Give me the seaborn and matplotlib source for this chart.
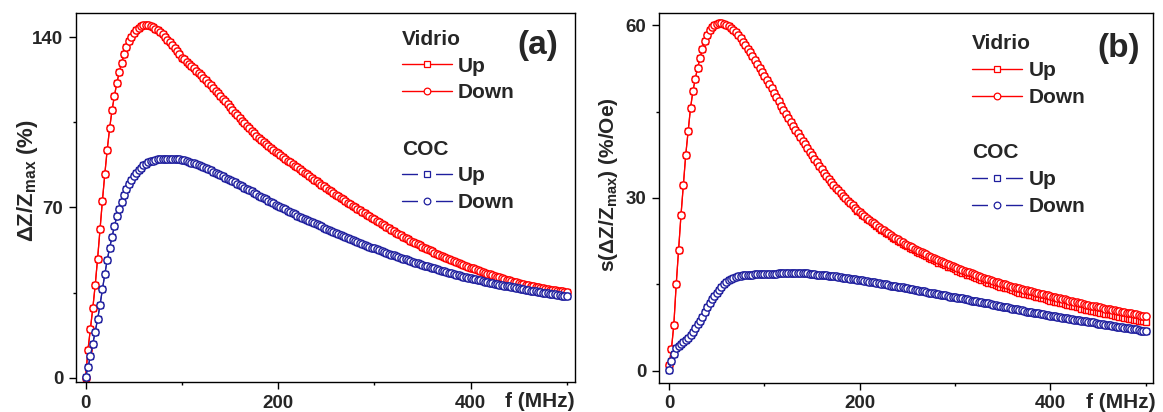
import numpy as np
import matplotlib
matplotlib.use("Agg")
import matplotlib.pyplot as plt
from matplotlib.lines import Line2D
from matplotlib.legend_handler import HandlerTuple
from matplotlib.ticker import FixedLocator
import seaborn as sns

# Frequency sweep of the impedance analyzer (MHz), 2.5 MHz steps
freq = np.linspace(0.0, 500.0, 201)

# (a) GMI ratio dZ/Zmax (%)
vidrio_up_a = [
    0.0, 11.5, 20.0, 28.5, 38.0, 49.0, 61.0, 72.8, 83.8, 93.8,
    102.6, 110.0, 116.0, 121.2, 125.7, 129.6, 133.0, 135.9, 138.3, 140.2,
    141.7, 142.9, 143.9, 144.6, 145.0, 145.2, 145.1, 144.8, 144.3, 143.6,
    142.9, 142.1, 141.2, 140.2, 139.1, 137.9, 136.7, 135.5, 134.3, 133.0,
    131.7, 130.9, 130.0, 129.1, 128.2, 127.3, 126.3, 125.4, 124.4, 123.4,
    122.4, 121.4, 120.3, 119.2, 118.1, 117.0, 115.9, 114.8, 113.6, 112.5,
    111.3, 110.2, 109.0, 107.9, 106.8, 105.7, 104.6, 103.5, 102.5, 101.5,
    100.5, 99.6, 98.7, 97.8, 97.0, 96.2, 95.4, 94.6, 93.8, 93.0,
    92.3, 91.5, 90.8, 90.0, 89.3, 88.6, 87.9, 87.2, 86.5, 85.8,
    85.1, 84.3, 83.6, 82.9, 82.2, 81.5, 80.8, 80.1, 79.4, 78.7,
    78.0, 77.3, 76.7, 76.0, 75.3, 74.6, 74.0, 73.3, 72.7, 72.0,
    71.4, 70.7, 70.1, 69.5, 68.9, 68.3, 67.7, 67.1, 66.5, 65.8,
    65.1, 64.5, 63.9, 63.3, 62.7, 62.1, 61.5, 60.9, 60.3, 59.7,
    59.2, 58.6, 58.0, 57.4, 56.9, 56.4, 55.9, 55.4, 54.9, 54.4,
    53.9, 53.4, 52.9, 52.4, 51.9, 51.4, 51.0, 50.5, 50.1, 49.6,
    49.2, 48.8, 48.4, 48.0, 47.6, 47.2, 46.8, 46.4, 46.0, 45.6,
    45.3, 44.9, 44.6, 44.2, 43.9, 43.5, 43.2, 42.8, 42.5, 42.1,
    41.8, 41.5, 41.2, 40.9, 40.6, 40.3, 40.0, 39.7, 39.5, 39.2,
    39.0, 38.7, 38.5, 38.2, 38.0, 37.8, 37.6, 37.4, 37.2, 37.0,
    36.8, 36.6, 36.4, 36.2, 36.1, 35.9, 35.8, 35.6, 35.5, 35.3,
    35.2,
]
vidrio_down_a = [
    0.0, 11.5, 20.0, 28.5, 38.0, 49.0, 61.0, 72.8, 83.8, 93.8,
    102.6, 110.0, 116.0, 121.2, 125.7, 129.6, 133.0, 135.9, 138.3, 140.2,
    141.7, 142.9, 143.9, 144.6, 145.0, 145.2, 145.1, 144.8, 144.3, 143.6,
    142.9, 142.1, 141.2, 140.2, 139.1, 137.9, 136.7, 135.5, 134.3, 133.0,
    131.7, 130.9, 130.0, 129.1, 128.2, 127.3, 126.3, 125.4, 124.4, 123.4,
    122.4, 121.4, 120.3, 119.2, 118.1, 117.0, 115.9, 114.8, 113.6, 112.5,
    111.3, 110.2, 109.0, 107.9, 106.8, 105.7, 104.6, 103.5, 102.5, 101.5,
    100.5, 99.6, 98.7, 97.8, 97.0, 96.2, 95.4, 94.6, 93.8, 93.0,
    92.3, 91.5, 90.8, 90.0, 89.3, 88.6, 87.9, 87.2, 86.5, 85.8,
    85.1, 84.3, 83.6, 82.9, 82.2, 81.5, 80.8, 80.1, 79.4, 78.7,
    78.0, 77.3, 76.7, 76.0, 75.3, 74.6, 74.0, 73.3, 72.7, 72.0,
    71.4, 70.7, 70.1, 69.5, 68.9, 68.3, 67.7, 67.1, 66.5, 65.8,
    65.1, 64.5, 63.9, 63.3, 62.7, 62.1, 61.5, 60.9, 60.3, 59.7,
    59.2, 58.6, 58.0, 57.4, 56.9, 56.4, 55.9, 55.4, 54.9, 54.4,
    53.9, 53.4, 52.9, 52.4, 51.9, 51.4, 51.0, 50.5, 50.1, 49.6,
    49.2, 48.8, 48.4, 48.0, 47.6, 47.2, 46.8, 46.4, 46.0, 45.6,
    45.3, 44.9, 44.6, 44.2, 43.9, 43.5, 43.2, 42.8, 42.5, 42.1,
    41.8, 41.5, 41.2, 40.9, 40.6, 40.3, 40.0, 39.7, 39.5, 39.2,
    39.0, 38.7, 38.5, 38.2, 38.0, 37.8, 37.6, 37.4, 37.2, 37.0,
    36.8, 36.6, 36.4, 36.2, 36.1, 35.9, 35.8, 35.6, 35.5, 35.3,
    35.2,
]
coc_up_a = [
    0.3, 4.2, 8.8, 13.9, 18.9, 24.0, 29.9, 36.4, 42.6, 48.4,
    53.4, 58.0, 62.4, 66.3, 69.4, 72.4, 75.0, 77.4, 79.5, 81.4,
    82.9, 84.2, 85.4, 86.4, 87.3, 88.0, 88.6, 89.0, 89.3, 89.6,
    89.8, 89.9, 90.0, 90.1, 90.1, 90.1, 90.1, 90.0, 89.9, 89.8,
    89.6, 89.4, 89.1, 88.8, 88.5, 88.1, 87.8, 87.4, 87.0, 86.7,
    86.3, 85.8, 85.3, 84.8, 84.3, 83.8, 83.3, 82.8, 82.3, 81.8,
    81.3, 80.8, 80.3, 79.8, 79.3, 78.7, 78.2, 77.6, 77.1, 76.6,
    76.0, 75.5, 74.9, 74.4, 73.8, 73.3, 72.7, 72.2, 71.7, 71.2,
    70.7, 70.2, 69.7, 69.2, 68.7, 68.2, 67.7, 67.2, 66.7, 66.2,
    65.7, 65.3, 64.8, 64.4, 63.9, 63.5, 63.0, 62.6, 62.2, 61.7,
    61.3, 60.9, 60.4, 60.0, 59.6, 59.2, 58.8, 58.3, 57.9, 57.5,
    57.1, 56.7, 56.3, 55.9, 55.5, 55.1, 54.7, 54.3, 53.9, 53.5,
    53.2, 52.8, 52.4, 52.1, 51.7, 51.3, 51.0, 50.6, 50.3, 49.9,
    49.6, 49.3, 48.9, 48.6, 48.3, 48.0, 47.7, 47.3, 47.0, 46.7,
    46.4, 46.1, 45.8, 45.5, 45.2, 44.9, 44.6, 44.3, 44.0, 43.8,
    43.5, 43.2, 42.9, 42.7, 42.4, 42.1, 41.9, 41.6, 41.4, 41.1,
    40.9, 40.7, 40.4, 40.2, 40.0, 39.7, 39.5, 39.3, 39.1, 38.9,
    38.7, 38.5, 38.3, 38.1, 37.9, 37.7, 37.5, 37.3, 37.1, 36.9,
    36.7, 36.5, 36.4, 36.2, 36.0, 35.8, 35.7, 35.5, 35.3, 35.2,
    35.0, 34.8, 34.7, 34.5, 34.4, 34.2, 34.0, 33.9, 33.7, 33.6,
    33.4,
]
coc_down_a = [
    0.3, 4.2, 8.8, 13.9, 18.9, 24.0, 29.9, 36.4, 42.6, 48.4,
    53.4, 58.0, 62.4, 66.3, 69.4, 72.4, 75.0, 77.4, 79.5, 81.4,
    82.9, 84.2, 85.4, 86.4, 87.3, 88.0, 88.6, 89.0, 89.3, 89.6,
    89.8, 89.9, 90.0, 90.1, 90.1, 90.1, 90.1, 90.0, 89.9, 89.8,
    89.6, 89.4, 89.1, 88.8, 88.5, 88.1, 87.8, 87.4, 87.0, 86.7,
    86.3, 85.8, 85.3, 84.8, 84.3, 83.8, 83.3, 82.8, 82.3, 81.8,
    81.3, 80.8, 80.3, 79.8, 79.3, 78.7, 78.2, 77.6, 77.1, 76.6,
    76.0, 75.5, 74.9, 74.4, 73.8, 73.3, 72.7, 72.2, 71.7, 71.2,
    70.7, 70.2, 69.7, 69.2, 68.7, 68.2, 67.7, 67.2, 66.7, 66.2,
    65.7, 65.3, 64.8, 64.4, 63.9, 63.5, 63.0, 62.6, 62.2, 61.7,
    61.3, 60.9, 60.4, 60.0, 59.6, 59.2, 58.8, 58.3, 57.9, 57.5,
    57.1, 56.7, 56.3, 55.9, 55.5, 55.1, 54.7, 54.3, 53.9, 53.5,
    53.2, 52.8, 52.4, 52.1, 51.7, 51.3, 51.0, 50.6, 50.3, 49.9,
    49.6, 49.3, 48.9, 48.6, 48.3, 48.0, 47.7, 47.3, 47.0, 46.7,
    46.4, 46.1, 45.8, 45.5, 45.2, 44.9, 44.6, 44.3, 44.0, 43.8,
    43.5, 43.2, 42.9, 42.7, 42.4, 42.1, 41.9, 41.6, 41.4, 41.1,
    40.9, 40.7, 40.4, 40.2, 40.0, 39.7, 39.5, 39.3, 39.1, 38.9,
    38.7, 38.5, 38.3, 38.1, 37.9, 37.7, 37.5, 37.3, 37.1, 36.9,
    36.7, 36.5, 36.4, 36.2, 36.0, 35.8, 35.7, 35.5, 35.3, 35.2,
    35.0, 34.8, 34.7, 34.5, 34.4, 34.2, 34.0, 33.9, 33.7, 33.6,
    33.4,
]

# (b) field sensitivity s(dZ/Zmax) (%/Oe)
vidrio_up_b = [
    1.0, 3.8, 8.0, 15.0, 21.0, 27.0, 32.3, 37.5, 41.6, 45.6,
    48.5, 50.7, 52.6, 54.3, 55.9, 57.2, 58.3, 59.1, 59.7, 60.0,
    60.2, 60.3, 60.3, 60.2, 60.0, 59.8, 59.5, 59.2, 58.8, 58.3,
    57.7, 57.1, 56.5, 55.9, 55.3, 54.7, 54.0, 53.3, 52.6, 51.9,
    51.2, 50.5, 49.8, 49.0, 48.3, 47.5, 46.8, 46.0, 45.3, 44.6,
    43.9, 43.2, 42.5, 41.8, 41.2, 40.5, 39.9, 39.3, 38.6, 38.0,
    37.4, 36.8, 36.2, 35.6, 35.0, 34.4, 33.9, 33.3, 32.8, 32.3,
    31.8, 31.3, 30.9, 30.4, 30.0, 29.5, 29.1, 28.7, 28.3, 27.8,
    27.5, 27.1, 26.8, 26.4, 26.1, 25.8, 25.4, 25.1, 24.8, 24.5,
    24.2, 23.9, 23.7, 23.4, 23.1, 22.9, 22.6, 22.3, 22.0, 21.8,
    21.6, 21.4, 21.2, 20.9, 20.7, 20.5, 20.3, 20.1, 19.9, 19.6,
    19.4, 19.2, 19.0, 18.8, 18.7, 18.5, 18.3, 18.1, 18.0, 17.8,
    17.6, 17.4, 17.2, 17.0, 16.9, 16.7, 16.6, 16.4, 16.3, 16.1,
    16.0, 15.8, 15.7, 15.4, 15.3, 15.2, 15.0, 14.9, 14.8, 14.6,
    14.5, 14.4, 14.3, 14.2, 14.0, 13.8, 13.7, 13.6, 13.5, 13.4,
    13.3, 13.2, 13.1, 13.0, 12.9, 12.8, 12.7, 12.6, 12.5, 12.3,
    12.2, 12.1, 12.0, 11.9, 11.8, 11.7, 11.6, 11.5, 11.4, 11.3,
    11.2, 11.1, 11.0, 10.8, 10.7, 10.6, 10.5, 10.4, 10.4, 10.3,
    10.2, 10.1, 10.0, 9.9, 9.9, 9.8, 9.7, 9.6, 9.5, 9.4,
    9.3, 9.2, 9.1, 9.0, 9.0, 8.9, 8.8, 8.7, 8.6, 8.6,
    8.5,
]
vidrio_down_b = [
    1.0, 3.8, 8.0, 15.0, 21.0, 27.0, 32.3, 37.5, 41.6, 45.6,
    48.5, 50.7, 52.6, 54.3, 55.9, 57.2, 58.3, 59.1, 59.7, 60.0,
    60.2, 60.3, 60.3, 60.2, 60.0, 59.8, 59.5, 59.2, 58.8, 58.3,
    57.7, 57.1, 56.5, 55.9, 55.3, 54.7, 54.0, 53.3, 52.6, 51.9,
    51.2, 50.5, 49.8, 49.0, 48.3, 47.5, 46.8, 46.0, 45.3, 44.6,
    43.9, 43.2, 42.5, 41.8, 41.2, 40.5, 39.9, 39.3, 38.6, 38.0,
    37.4, 36.8, 36.2, 35.6, 35.0, 34.4, 33.9, 33.3, 32.8, 32.3,
    31.8, 31.3, 30.9, 30.4, 30.0, 29.5, 29.1, 28.7, 28.3, 27.9,
    27.6, 27.2, 26.9, 26.5, 26.2, 25.9, 25.6, 25.3, 25.0, 24.7,
    24.4, 24.1, 23.9, 23.6, 23.3, 23.1, 22.8, 22.6, 22.3, 22.1,
    21.9, 21.7, 21.5, 21.2, 21.0, 20.8, 20.6, 20.4, 20.2, 20.0,
    19.8, 19.6, 19.4, 19.2, 19.1, 18.9, 18.7, 18.5, 18.4, 18.2,
    18.0, 17.9, 17.7, 17.5, 17.4, 17.2, 17.1, 16.9, 16.8, 16.6,
    16.5, 16.3, 16.2, 16.0, 15.9, 15.8, 15.6, 15.5, 15.4, 15.2,
    15.1, 15.0, 14.9, 14.8, 14.6, 14.5, 14.4, 14.3, 14.2, 14.1,
    14.0, 13.9, 13.8, 13.7, 13.6, 13.5, 13.4, 13.3, 13.2, 13.1,
    13.0, 12.9, 12.8, 12.7, 12.6, 12.5, 12.4, 12.3, 12.2, 12.1,
    12.0, 11.9, 11.8, 11.7, 11.6, 11.5, 11.4, 11.3, 11.3, 11.2,
    11.1, 11.0, 10.9, 10.8, 10.8, 10.7, 10.6, 10.5, 10.4, 10.4,
    10.3, 10.2, 10.1, 10.0, 10.0, 9.9, 9.8, 9.7, 9.6, 9.6,
    9.5,
]
coc_up_b = [
    0.2, 1.8, 3.0, 3.9, 4.4, 4.7, 5.0, 5.3, 5.7, 6.2,
    6.8, 7.5, 8.1, 8.7, 9.4, 10.2, 11.0, 11.7, 12.4, 13.0,
    13.6, 14.1, 14.6, 15.0, 15.4, 15.7, 15.9, 16.1, 16.3, 16.4,
    16.5, 16.6, 16.6, 16.7, 16.7, 16.7, 16.8, 16.8, 16.8, 16.8,
    16.8, 16.8, 16.8, 16.8, 16.8, 16.8, 16.9, 16.9, 16.9, 16.9,
    16.9, 16.9, 16.9, 16.9, 16.9, 16.9, 16.9, 16.9, 16.9, 16.8,
    16.8, 16.8, 16.7, 16.7, 16.7, 16.6, 16.6, 16.5, 16.5, 16.4,
    16.4, 16.3, 16.3, 16.2, 16.2, 16.1, 16.0, 16.0, 15.9, 15.8,
    15.8, 15.7, 15.6, 15.6, 15.5, 15.4, 15.4, 15.3, 15.2, 15.1,
    15.1, 15.0, 14.9, 14.8, 14.8, 14.7, 14.6, 14.5, 14.5, 14.4,
    14.3, 14.2, 14.2, 14.1, 14.0, 13.9, 13.8, 13.8, 13.7, 13.6,
    13.5, 13.5, 13.4, 13.3, 13.2, 13.2, 13.1, 13.0, 12.9, 12.9,
    12.8, 12.7, 12.6, 12.6, 12.5, 12.4, 12.3, 12.2, 12.2, 12.1,
    12.0, 11.9, 11.8, 11.7, 11.7, 11.6, 11.5, 11.4, 11.3, 11.2,
    11.1, 11.1, 11.0, 10.9, 10.8, 10.7, 10.7, 10.6, 10.5, 10.4,
    10.3, 10.3, 10.2, 10.1, 10.0, 10.0, 9.9, 9.8, 9.7, 9.7,
    9.6, 9.5, 9.5, 9.4, 9.3, 9.2, 9.2, 9.1, 9.0, 9.0,
    8.9, 8.8, 8.8, 8.7, 8.6, 8.6, 8.5, 8.4, 8.4, 8.3,
    8.2, 8.2, 8.1, 8.0, 8.0, 7.9, 7.8, 7.8, 7.7, 7.6,
    7.6, 7.5, 7.4, 7.4, 7.3, 7.2, 7.2, 7.1, 7.0, 7.0,
    6.9,
]
coc_down_b = [
    0.2, 1.8, 3.0, 3.9, 4.4, 4.7, 5.0, 5.3, 5.7, 6.2,
    6.8, 7.5, 8.1, 8.7, 9.4, 10.2, 11.0, 11.7, 12.4, 13.0,
    13.6, 14.1, 14.6, 15.0, 15.4, 15.7, 15.9, 16.1, 16.3, 16.4,
    16.5, 16.6, 16.6, 16.7, 16.7, 16.7, 16.8, 16.8, 16.8, 16.8,
    16.8, 16.8, 16.8, 16.8, 16.8, 16.8, 16.9, 16.9, 16.9, 16.9,
    16.9, 16.9, 16.9, 16.9, 16.9, 16.9, 16.9, 16.9, 16.9, 16.8,
    16.8, 16.8, 16.7, 16.7, 16.7, 16.6, 16.6, 16.5, 16.5, 16.4,
    16.4, 16.3, 16.3, 16.2, 16.2, 16.1, 16.0, 16.0, 15.9, 15.8,
    15.8, 15.7, 15.6, 15.6, 15.5, 15.4, 15.4, 15.3, 15.2, 15.1,
    15.1, 15.0, 14.9, 14.8, 14.8, 14.7, 14.6, 14.5, 14.5, 14.4,
    14.3, 14.2, 14.2, 14.1, 14.0, 13.9, 13.8, 13.8, 13.7, 13.6,
    13.5, 13.5, 13.4, 13.3, 13.2, 13.2, 13.1, 13.0, 12.9, 12.9,
    12.8, 12.7, 12.6, 12.6, 12.5, 12.4, 12.3, 12.2, 12.2, 12.1,
    12.0, 11.9, 11.8, 11.7, 11.7, 11.6, 11.5, 11.4, 11.3, 11.2,
    11.1, 11.1, 11.0, 10.9, 10.8, 10.7, 10.7, 10.6, 10.5, 10.4,
    10.3, 10.3, 10.2, 10.1, 10.0, 10.0, 9.9, 9.8, 9.7, 9.7,
    9.6, 9.5, 9.5, 9.4, 9.3, 9.2, 9.2, 9.1, 9.0, 9.0,
    8.9, 8.8, 8.8, 8.7, 8.6, 8.6, 8.5, 8.4, 8.4, 8.3,
    8.2, 8.2, 8.1, 8.0, 8.0, 7.9, 7.8, 7.8, 7.7, 7.6,
    7.6, 7.5, 7.4, 7.4, 7.3, 7.2, 7.2, 7.1, 7.0, 7.0,
    6.9,
]

x_major = [0, 200, 400]
x_minor = [100, 300, 500]

RED = "#FF0000"
BLUE = "#1F1F9E"

sns.set_style("ticks")
plt.rcParams["font.family"] = ["Liberation Sans", "DejaVu Sans"]
plt.rcParams["font.weight"] = "bold"
plt.rcParams["mathtext.default"] = "regular"
plt.rcParams["axes.edgecolor"] = "black"
plt.rcParams["axes.linewidth"] = 1.0

fig = plt.figure(figsize=(11.63, 4.12), dpi=100)
fig.patch.set_facecolor("white")

panels = [
    dict(rect=[0.0653, 0.0728, 0.4291, 0.8956],
         series=[(vidrio_up_a, vidrio_down_a, RED), (coc_up_a, coc_down_a, BLUE)],
         xlim=(-10, 508.5), ylim=(-1.8, 150.0),
         y_major=[0, 70, 140], y_minor=[35, 105],
         ylabel="ΔZ/Z$_{max}$ (%)", ylabel_size=16, ylabel_pos=(-0.098, 0.547),
         tag="(a)", tag_pos=(0.925, 0.913), xlab_pos=(0.930, -0.054),
         leg1=(0.653, 0.955), leg2=(0.653, 0.657)),
    dict(rect=[0.5666, 0.0704, 0.4248, 0.8981],
         series=[(vidrio_up_b, vidrio_down_b, RED), (coc_up_b, coc_down_b, BLUE)],
         xlim=(-10.6, 507.7), ylim=(-2.1, 62.1),
         y_major=[0, 30, 60], y_minor=[15, 45],
         ylabel="s(ΔZ/Z$_{max}$) (%/Oe)", ylabel_size=15, ylabel_pos=(-0.103, 0.535),
         tag="(b)", tag_pos=(0.931, 0.903), xlab_pos=(0.935, -0.053),
         leg1=(0.634, 0.942), leg2=(0.634, 0.648)),
]

MS = 5.2
MEW = 1.0
LW = 0.9

for p in panels:
    ax = fig.add_axes(p["rect"])
    for up, down, col in p["series"]:
        sns.lineplot(x=freq, y=up, ax=ax, estimator=None, legend=False,
                     color=col, linewidth=LW, marker="s", markersize=MS * 0.9,
                     markerfacecolor="white", markeredgecolor=col,
                     markeredgewidth=MEW)
        sns.lineplot(x=freq, y=down, ax=ax, estimator=None, legend=False,
                     color=col, linewidth=LW, marker="o", markersize=MS,
                     markerfacecolor="white", markeredgecolor=col,
                     markeredgewidth=MEW)

    ax.set_xlim(*p["xlim"])
    ax.set_ylim(*p["ylim"])
    ax.xaxis.set_major_locator(FixedLocator(x_major))
    ax.xaxis.set_minor_locator(FixedLocator(x_minor))
    ax.yaxis.set_major_locator(FixedLocator(p["y_major"]))
    ax.yaxis.set_minor_locator(FixedLocator(p["y_minor"]))
    ax.tick_params(which="major", direction="out", length=5, width=1.0,
                   labelsize=13.5, pad=4, color="black")
    ax.tick_params(which="minor", direction="out", length=2.5, width=1.0,
                   color="black")
    for s in ax.spines.values():
        s.set_visible(True)
        s.set_color("black")
        s.set_linewidth(1.0)
    ax.set_xlabel("")
    ax.set_ylabel("")
    ax.text(*p["ylabel_pos"], p["ylabel"], transform=ax.transAxes,
            rotation=90, ha="center", va="center", fontsize=p["ylabel_size"],
            fontweight="bold")
    ax.text(*p["xlab_pos"], "f (MHz)", transform=ax.transAxes,
            ha="center", va="center", fontsize=15, fontweight="bold",
            clip_on=False)
    ax.text(*p["tag_pos"], p["tag"], transform=ax.transAxes,
            ha="center", va="center", fontsize=24, fontweight="bold")

    # legend blocks: Vidrio (solid handles) and COC (handles with line gaps)
    def plain(col, mk):
        return Line2D([], [], color=col, lw=1.0, marker=mk, markersize=4.8,
                      markerfacecolor="white", markeredgecolor=col,
                      markeredgewidth=0.9)

    def gapped(col, mk):
        line = Line2D([], [], color=col, lw=1.0)
        gap = Line2D([], [], ls="none", marker="s", markersize=13,
                     markerfacecolor="white", markeredgecolor="white",
                     markeredgewidth=0)
        sym = Line2D([], [], ls="none", marker=mk, markersize=4.8,
                     markerfacecolor="white", markeredgecolor=col,
                     markeredgewidth=0.9)
        return (line, gap, sym)

    common = dict(loc="upper left", frameon=False, alignment="left",
                  borderpad=0, borderaxespad=0, handlelength=2.4,
                  handletextpad=0.3, labelspacing=0.38,
                  prop=dict(size=15, weight="bold"),
                  title_fontproperties=dict(size=15, weight="bold"),
                  handler_map={tuple: HandlerTuple(ndivide=1, pad=0)})
    leg1 = ax.legend([plain(RED, "s"), plain(RED, "o")], ["Up", "Down"],
                     title="Vidrio", bbox_to_anchor=p["leg1"], **common)
    ax.add_artist(leg1)
    ax.legend([gapped(BLUE, "s"), gapped(BLUE, "o")], ["Up", "Down"],
              title="COC", bbox_to_anchor=p["leg2"], **common)

fig.savefig("out.png", dpi=100, facecolor="white")
